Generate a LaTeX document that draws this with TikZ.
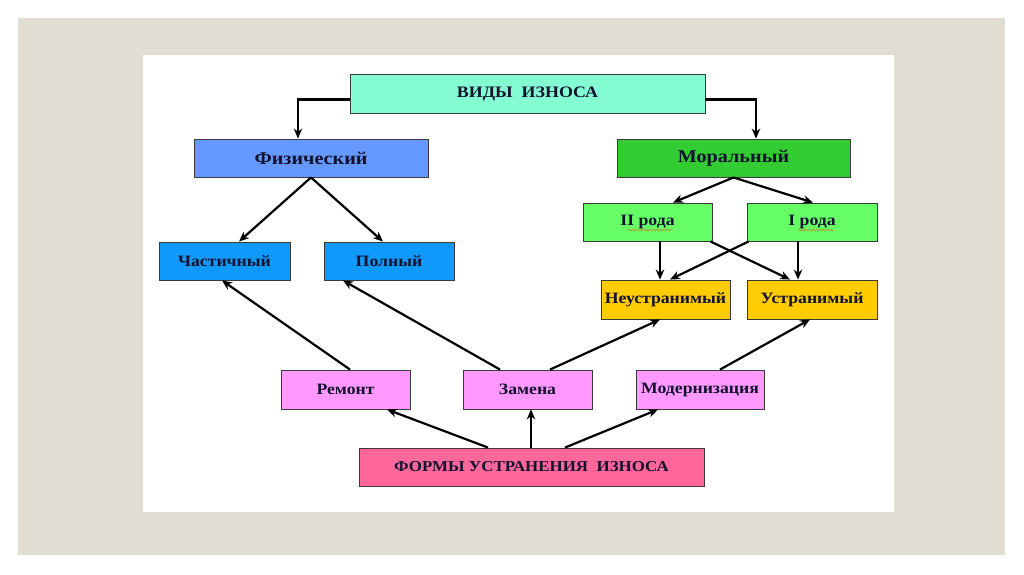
\documentclass[tikz,border=0pt]{standalone}
\usepackage{fontspec}
\setmainfont{Liberation Serif}[FakeStretch=1.12]
\usetikzlibrary{arrows.meta,decorations.pathmorphing}
\definecolor{panel}{HTML}{E2DDD3}
\definecolor{cvid}{HTML}{85FDD3}
\definecolor{cfiz}{HTML}{6699FF}
\definecolor{cmor}{HTML}{33CC33}
\definecolor{cblue}{HTML}{0F99FA}
\definecolor{cgreen}{HTML}{66FF66}
\definecolor{cyel}{HTML}{FFCC00}
\definecolor{cpink}{HTML}{FF99FF}
\definecolor{cform}{HTML}{FF6699}
\definecolor{txt}{HTML}{12122E}
\definecolor{bord}{HTML}{3A3A3A}
\definecolor{squig}{HTML}{A8A038}
\tikzset{
  box/.style={draw=bord, line width=0.9pt, inner sep=0pt, text=txt},
  vidbox/.style={box, font=\fontsize{16}{18}\selectfont\bfseries},
  midbox/.style={box, font=\fontsize{18}{20}\selectfont\bfseries},
  formbox/.style={box, font=\fontsize{15.1}{18}\selectfont\bfseries},
  smallbox/.style={box, font=\fontsize{15.8}{18}\selectfont\bfseries},
  arr/.style={line width=2.2pt, -{Stealth[length=10pt,width=8.5pt]}},
  wavy/.style={draw=squig, line width=0.8pt, decorate, decoration={snake, amplitude=0.9pt, segment length=3.5pt}}
}
\begin{document}
\begin{tikzpicture}[x=1pt,y=-1pt]
\useasboundingbox (0,0) rectangle (1024,574);
\fill[white] (0,0) rectangle (1024,574);
\fill[panel] (18,18) rectangle (1005,555);
\fill[white] (143,55) rectangle (894,512);

\node[vidbox, fill=cvid, minimum width=355pt, minimum height=39pt] (vid) at (527.5,93.5) {ВИДЫ\ \ ИЗНОСА};
\node[midbox, fill=cfiz, minimum width=234pt, minimum height=38pt] (fiz) at (311,158) {Физический};
\node[midbox, fill=cmor, minimum width=233pt, minimum height=38pt] (mor) at (733.5,158) {Моральный};
\node[smallbox, fill=cblue, minimum width=131pt, minimum height=38pt] (chast) at (224.5,261) {Частичный};
\node[smallbox, fill=cblue, minimum width=130pt, minimum height=38pt] (poln) at (389,261) {Полный};
\node[smallbox, fill=cgreen, minimum width=129pt, minimum height=38pt] (r2) at (647.5,222) {II рода};
\node[smallbox, fill=cgreen, minimum width=130pt, minimum height=38pt] (r1) at (812,222) {I рода};
\node[smallbox, fill=cyel, minimum width=129pt, minimum height=39pt] (neu) at (665.5,299.5) {Неустранимый};
\node[smallbox, fill=cyel, minimum width=130pt, minimum height=39pt] (ust) at (812,299.5) {Устранимый};
\node[smallbox, fill=cpink, minimum width=129pt, minimum height=39pt] (rem) at (345.5,389.5) {Ремонт};
\node[smallbox, fill=cpink, minimum width=129pt, minimum height=39pt] (zam) at (527.5,389.5) {Замена};
\node[smallbox, fill=cpink, minimum width=128pt, minimum height=39pt] (mod) at (700,389.5) {Модернизация};
\node[formbox, fill=cform, minimum width=345pt, minimum height=38pt] (form) at (531.5,467) {ФОРМЫ УСТРАНЕНИЯ\ \ ИЗНОСА};

\coordinate (sq2a) at (628,230);
\coordinate (sq2b) at (673,230);
\coordinate (sq1a) at (798,230);
\coordinate (sq1b) at (834,230);
\draw[wavy] (sq2a) -- (sq2b);
\draw[wavy] (sq1a) -- (sq1b);

\draw[arr] ([yshift=-6pt]vid.west) -| ([xshift=-13pt]fiz.north);
\draw[arr] ([yshift=-6pt]vid.east) -| ([xshift=22.5pt]mor.north);

\draw[arr] (fiz.south) -- ([xshift=14.5pt]chast.north);
\draw[arr] (fiz.south) -- ([xshift=-6pt]poln.north);

\draw[arr] (mor.south) -- ([xshift=25.5pt]r2.north);
\draw[arr] (mor.south) -- ([xshift=1pt]r1.north);

\draw[arr] ([xshift=12.5pt]r2.south) -- ([xshift=12.5pt]r2.south |- neu.north);
\draw[arr] ([xshift=-2pt]r2.south east) -- ([xshift=-22pt]ust.north);
\draw[arr] ([xshift=2pt]r1.south west) -- ([xshift=4.5pt]neu.north);
\draw[arr] ([xshift=-14pt]r1.south) -- ([xshift=-14pt]r1.south |- ust.north);

\draw[arr] ([xshift=4.5pt]rem.north) -- ([xshift=-2.5pt]chast.south);
\draw[arr] ([xshift=-27.5pt]zam.north) -- ([xshift=-46pt]poln.south);
\draw[arr] ([xshift=22.5pt]zam.north) -- ([xshift=-5.5pt]neu.south);
\draw[arr] ([xshift=20pt]mod.north) -- ([xshift=-2pt]ust.south);

\draw[arr] ([xshift=-43.5pt]form.north) -- ([xshift=41.5pt]rem.south);
\draw[arr] ([xshift=-0.5pt]form.north) -- ([xshift=-0.5pt]form.north |- zam.south);
\draw[arr] ([xshift=33.5pt]form.north) -- ([xshift=-42pt]mod.south);
\end{tikzpicture}
\end{document}
